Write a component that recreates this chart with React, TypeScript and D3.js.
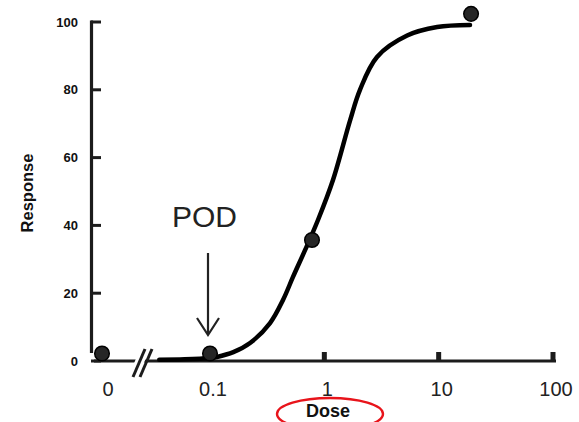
import React from "react";
import * as d3 from "d3";

const W = 579;
const H = 422;

// Observed data points (dose, response)
const pointDoses = [0, 0.1, 0.78, 19.2];
const pointResponses = [2.2, 2.2, 35.7, 102.4];

// Fitted curve (dose, response)
const curveDoses = [0.036, 0.06, 0.1, 0.115, 0.16, 0.224, 0.335, 0.435, 0.532, 0.678, 0.88, 1.19, 1.68, 2.05, 2.89, 5.3, 9.7, 18.8];
const curveResponses = [0.4, 0.5, 0.9, 1.2, 2.6, 5.3, 11.2, 18, 24.8, 32.7, 41.6, 53.4, 71, 80, 89.7, 96, 98.5, 99.1];

const yTicks = [0, 20, 40, 60, 80, 100];
const xTickValues = [0.1, 1, 10, 100];
const xTickLabels = ["0.1", "1", "10", "100"];
const zeroLabel = "0";

export default function App() {
  const xLog = d3.scaleLog().domain([0.1, 100]).range([210, 553]);
  const xZero = 102;
  const x = (d: number) => (d === 0 ? xZero : xLog(d));
  const y = d3.scaleLinear().domain([0, 100]).range([361, 22]);

  const line = d3
    .line<number>()
    .x((i) => xLog(curveDoses[i]))
    .y((i) => y(curveResponses[i]))
    .curve(d3.curveCatmullRom.alpha(0.5));

  const curvePath = line(curveDoses.map((_, i) => i)) || "";

  const axisColor = "#1c1c1c";
  const x0 = y(0);

  return (
    <svg
      width={W}
      height={H}
      style={{ position: "absolute", left: 0, top: 0, display: "block", background: "#fff" }}
    >
      {/* y axis */}
      <line x1={91.5} x2={91.5} y1={y(100) - 1.5} y2={x0 - 8} stroke={axisColor} strokeWidth={3.2} />
      {yTicks.map((t) => (
        <g key={t}>
          <line x1={91} x2={101} y1={y(t)} y2={y(t)} stroke={axisColor} strokeWidth={3} />
          <text
            x={78}
            y={y(t)}
            textAnchor="end"
            dominantBaseline="central"
            fontFamily="Liberation Sans, Arial, sans-serif"
            fontWeight="bold"
            fontSize={13}
            fill="#111"
          >
            {t}
          </text>
        </g>
      ))}
      <text
        transform={`translate(33, 193) rotate(-90)`}
        textAnchor="middle"
        fontFamily="Liberation Sans, Arial, sans-serif"
        fontWeight="bold"
        fontSize={16.5}
        fill="#111"
      >
        Response
      </text>

      {/* x axis */}
      <line x1={94} x2={xLog(100) + 3} y1={x0} y2={x0} stroke={axisColor} strokeWidth={3.2} />
      {xTickValues.map((v, i) => (
        <g key={v}>
          <line x1={xLog(v)} x2={xLog(v)} y1={x0 - 9} y2={x0} stroke={axisColor} strokeWidth={5} />
          <text
            x={xLog(v) + 3}
            y={396}
            textAnchor="middle"
            fontFamily="Liberation Sans, Arial, sans-serif"
            fontSize={20}
            fill="#222"
          >
            {xTickLabels[i]}
          </text>
        </g>
      ))}
      <text
        x={xZero + 6}
        y={396}
        textAnchor="middle"
        fontFamily="Liberation Sans, Arial, sans-serif"
        fontSize={20}
        fill="#222"
      >
        {zeroLabel}
      </text>

      {/* axis break */}
      <line x1={133} x2={145} y1={377} y2={349} stroke="#fff" strokeWidth={9} />
      <line x1={133} x2={145} y1={377} y2={349} stroke={axisColor} strokeWidth={3} />
      <line x1={140} x2={152} y1={377} y2={349} stroke={axisColor} strokeWidth={3} />

      {/* curve */}
      <path d={curvePath} fill="none" stroke="#000" strokeWidth={4.5} strokeLinecap="round" />

      {/* points */}
      {pointDoses.map((d, i) => (
        <circle key={i} cx={x(d)} cy={y(pointResponses[i])} r={7.3} fill="#262626" stroke="#000" strokeWidth={1.5} />
      ))}

      {/* POD annotation */}
      <text x={172} y={227} fontFamily="Liberation Sans, Arial, sans-serif" fontSize={30} fill="#222">
        POD
      </text>
      <line x1={208} x2={208} y1={253} y2={334} stroke="#222" strokeWidth={2.2} />
      <polyline points="197,318 208,335 219,318" fill="none" stroke="#222" strokeWidth={2.2} />

      {/* Dose label with red ellipse */}
      <ellipse cx={330} cy={414} rx={53} ry={16} fill="none" stroke="#e8141b" strokeWidth={2.4} />
      <text
        x={328}
        y={417}
        textAnchor="middle"
        fontFamily="Liberation Sans, Arial, sans-serif"
        fontWeight="bold"
        fontSize={18}
        fill="#111"
      >
        Dose
      </text>
    </svg>
  );
}
